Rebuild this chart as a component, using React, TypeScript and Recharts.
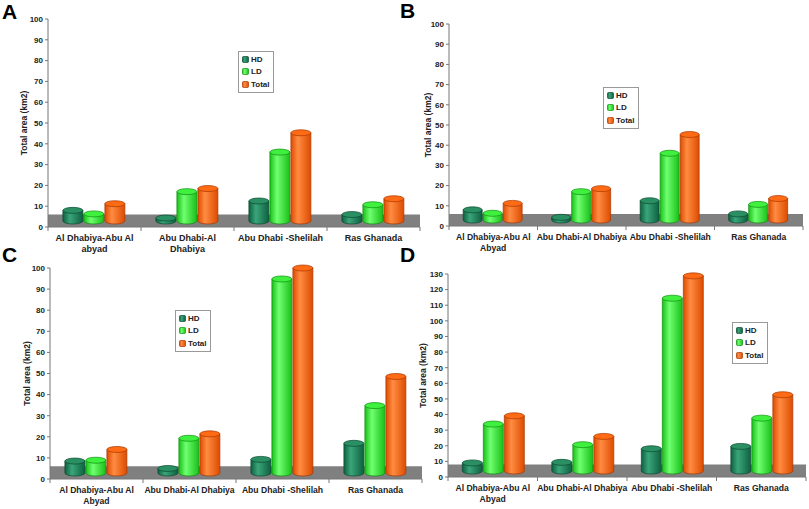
import React from "react";
import { BarChart, Bar, XAxis, YAxis, ReferenceArea, Legend, Label } from "recharts";

// study sites per panel (x tick labels, "\n" = line break)
const SITES_A = ["Al Dhabiya-Abu Al\nabyad", "Abu Dhabi-Al\nDhabiya", "Abu Dhabi -Shelilah", "Ras Ghanada"];
const SITES = ["Al Dhabiya-Abu Al\nAbyad", "Abu Dhabi-Al Dhabiya", "Abu Dhabi -Shelilah", "Ras Ghanada"];

// total area (km2) — panels A and B show the same values
const HD_AB = [8, 4.3, 12.5, 6];
const LD_AB = [6.3, 17, 36, 10.7];
const TOTAL_AB = [11.2, 18.5, 45.3, 13.6];

const HD_C = [8.5, 5, 9.3, 16.9];
const LD_C = [8.9, 19.3, 94.8, 34.8];
const TOTAL_C = [14, 21.4, 100, 48.6];

const HD_D = [9, 9.4, 18.1, 19.6];
const LD_D = [33.9, 20.7, 114.5, 37.7];
const TOTAL_D = [39.2, 26, 128.8, 52.7];

const TICKS_100 = [0, 10, 20, 30, 40, 50, 60, 70, 80, 90, 100];
const TICKS_130 = [0, 10, 20, 30, 40, 50, 60, 70, 80, 90, 100, 110, 120, 130];

const SERIES = [
  { key: "HD", edge: "#0e6040", mid: "#3aa57a", top: "#2a8f62", stroke: "#0a4a30" },
  { key: "LD", edge: "#18c018", mid: "#70ff70", top: "#3ff03f", stroke: "#0f8f0f" },
  { key: "Total", edge: "#dd4c00", mid: "#ff8c42", top: "#ff6a14", stroke: "#a83800" },
];

const FONT = '"Liberation Sans", Arial, sans-serif';

const build = (sites: string[], hd: number[], ld: number[], total: number[]) =>
  sites.map((name, i) => ({ name, HD: hd[i], LD: ld[i], Total: total[i] }));

const Cylinder = (props: any) => {
  const { x, y, width, height, s, pid } = props;
  if (!width || height == null) return null;
  const rx = width / 2;
  const ry = 3;
  const top = y;
  const bottom = Math.max(y + height - 6, top + 0.5);
  return (
    <g>
      <path
        d={`M${x},${top} L${x},${bottom} A${rx},${ry} 0 0 0 ${x + width},${bottom} L${x + width},${top} Z`}
        fill={`url(#g-${pid}-${s.key})`}
        stroke={s.stroke}
        strokeWidth={0.7}
      />
      <ellipse cx={x + rx} cy={top} rx={rx} ry={ry} fill={s.top} stroke={s.stroke} strokeWidth={0.7} />
    </g>
  );
};

const CatTick = (props: any) => {
  const { x, y, payload, index, bw, count, fs } = props;
  const lines = String(payload.value).split("\n");
  return (
    <g>
      <line x1={x - bw / 2} x2={x - bw / 2} y1={y} y2={y + 4} stroke="#777" />
      {index === count - 1 && <line x1={x + bw / 2} x2={x + bw / 2} y1={y} y2={y + 4} stroke="#777" />}
      <text x={x} y={y + 14} textAnchor="middle" fontSize={fs} fontWeight="bold" fill="#222" fontFamily={FONT}>
        {lines.map((l, i) => (
          <tspan key={i} x={x} dy={i ? 11 : 0}>
            {l}
          </tspan>
        ))}
      </text>
    </g>
  );
};

const LegendBox = ({ fs, pid }: { fs: number; pid: string }) => (
  <div style={{ border: "1px solid #999", background: "#fff", padding: "1px 3px", fontFamily: FONT }}>
    {SERIES.map((s) => (
      <div key={s.key} style={{ display: "flex", alignItems: "center", height: fs + 4.5, fontSize: fs, fontWeight: "bold", color: "#222" }}>
        <svg width={7} height={7} style={{ marginRight: 2 }}>
          <rect x={0.5} y={0.5} width={6} height={6} rx={1} fill={`url(#g-${pid}-${s.key})`} stroke={s.stroke} strokeWidth={0.7} />
        </svg>
        {s.key}
      </div>
    ))}
  </div>
);

type Panel = {
  id: string;
  left: number;
  top: number;
  w: number;
  h: number;
  plot: [number, number, number, number]; // left, right, top, bottom (page coords)
  data: any[];
  max: number;
  ticks: number[];
  floor: number;
  legend: [number, number, number];
  labelDx: number;
  xfs: number;
};

const PANELS: Panel[] = [
  { id: "A", left: 0, top: 0, w: 425, h: 258, plot: [48, 420, 19, 227], data: build(SITES_A, HD_AB, LD_AB, TOTAL_AB), max: 100, ticks: TICKS_100, floor: 6, legend: [238, 51, 8], labelDx: 0, xfs: 9 },
  { id: "B", left: 400, top: 0, w: 409, h: 258, plot: [449, 803, 24, 226], data: build(SITES, HD_AB, LD_AB, TOTAL_AB), max: 100, ticks: TICKS_100, floor: 6, legend: [203, 87, 8], labelDx: 3, xfs: 8.6 },
  { id: "C", left: 0, top: 250, w: 425, h: 259, plot: [50, 422, 268, 479], data: build(SITES, HD_C, LD_C, TOTAL_C), max: 100, ticks: TICKS_100, floor: 6, legend: [175, 60, 8], labelDx: 2, xfs: 8.6 },
  { id: "D", left: 400, top: 250, w: 409, h: 259, plot: [448, 806, 274, 477], data: build(SITES, HD_D, LD_D, TOTAL_D), max: 130, ticks: TICKS_130, floor: 8, legend: [332, 72, 8], labelDx: -1, xfs: 8.6 },
];

const PanelChart = ({ p }: { p: Panel }) => {
  const [pl, pr, pt, pb] = p.plot;
  const yw = pl - p.left;
  const right = p.left + p.w - pr;
  const top = pt - p.top;
  const xh = p.top + p.h - pb;
  const bw = (pr - pl) / p.data.length;
  return (
    <div style={{ position: "absolute", left: p.left, top: p.top }}>
      <BarChart
        width={p.w}
        height={p.h}
        data={p.data}
        margin={{ top, right, left: 0, bottom: 0 }}
        barCategoryGap="16%"
        barGap={1}
      >
        <defs>
          {SERIES.map((s) => (
            <linearGradient key={s.key} id={`g-${p.id}-${s.key}`} x1="0" y1="0" x2="1" y2="0">
              <stop offset="0%" stopColor={s.edge} />
              <stop offset="35%" stopColor={s.mid} />
              <stop offset="100%" stopColor={s.edge} />
            </linearGradient>
          ))}
        </defs>
        <XAxis
          dataKey="name"
          interval={0}
          height={xh}
          tickLine={false}
          tickSize={0}
          tickMargin={0}
          axisLine={{ stroke: "#777" }}
          tick={<CatTick bw={bw} count={p.data.length} fs={p.xfs} />}
        />
        <YAxis
          width={yw}
          domain={[0, p.max]}
          ticks={p.ticks}
          interval={0}
          tickSize={3}
          tickMargin={2}
          axisLine={{ stroke: "#777" }}
          tickLine={{ stroke: "#777" }}
          tick={{ fontSize: 8, fontWeight: "bold", fill: "#222", fontFamily: FONT }}
        >
          <Label
            value="Total area (km2)"
            angle={-90}
            position="center"
            dx={p.labelDx}
            style={{ fontSize: 8.5, fontWeight: "bold", fill: "#222", fontFamily: FONT }}
          />
        </YAxis>
        <ReferenceArea y1={0} y2={p.floor} fill="#808080" fillOpacity={1} stroke="none" />
        <Legend
          layout="horizontal"
          verticalAlign="middle"
          align="center"
          wrapperStyle={{ left: p.legend[0], top: p.legend[1], width: "auto" }}
          content={() => <LegendBox fs={p.legend[2]} pid={p.id} />}
        />
        {SERIES.map((s) => (
          <Bar
            key={s.key}
            dataKey={s.key}
            fill={s.top}
            isAnimationActive={false}
            shape={(bp: any) => <Cylinder {...bp} s={s} pid={p.id} />}
          />
        ))}
      </BarChart>
    </div>
  );
};

export default function App() {
  return (
    <div style={{ position: "absolute", left: 0, top: 0, width: 809, height: 509, background: "#fff", overflow: "hidden" }}>
      {PANELS.map((p) => (
        <PanelChart key={p.id} p={p} />
      ))}
      <svg width={809} height={509} style={{ position: "absolute", left: 0, top: 0, pointerEvents: "none" }}>
        {[
          ["A", 2, 19],
          ["B", 400, 18],
          ["C", 2, 262],
          ["D", 400, 262],
        ].map(([t, x, y]) => (
          <text key={t as string} x={x as number} y={y as number} fontSize={21} fontWeight="bold" fontFamily={FONT} fill="#000">
            {t}
          </text>
        ))}
      </svg>
    </div>
  );
}
